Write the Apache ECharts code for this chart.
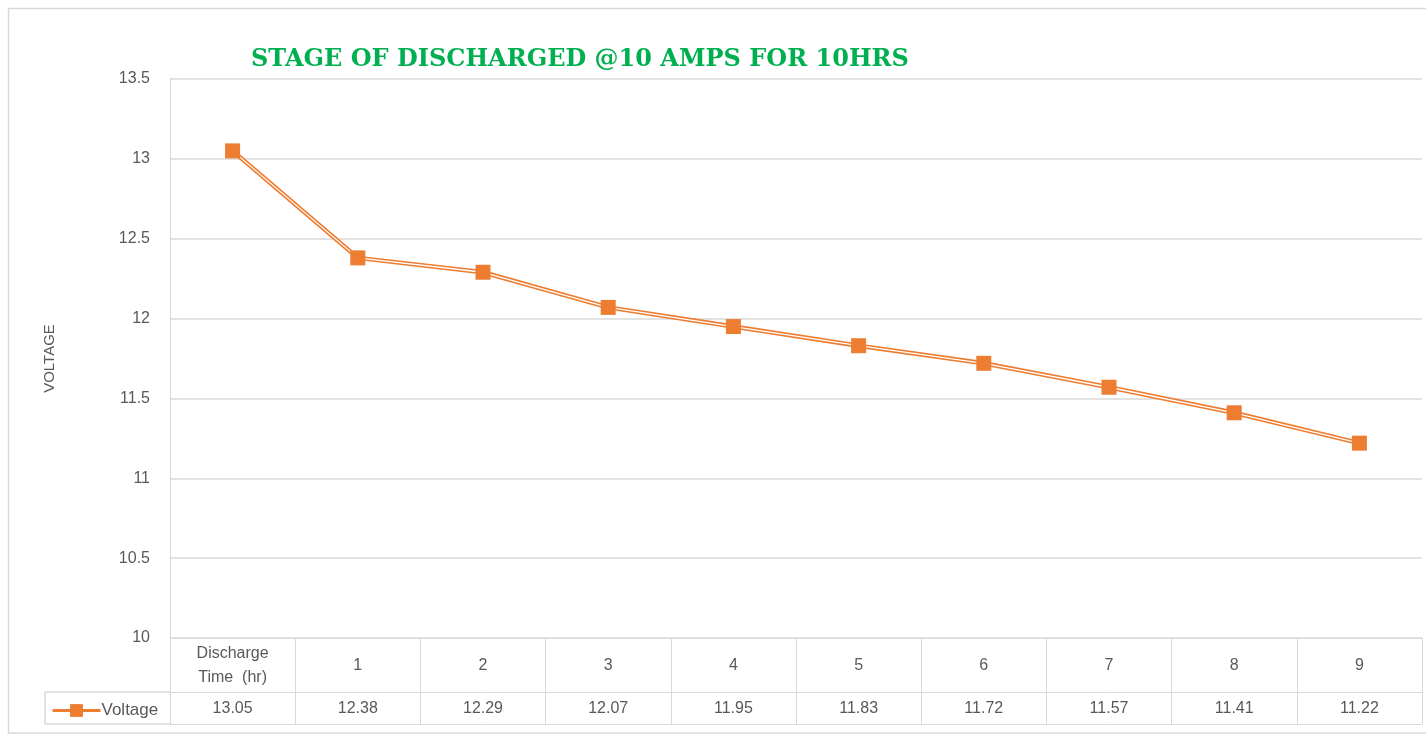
<!DOCTYPE html>
<html>
<head>
<meta charset="utf-8">
<script src="https://cdn.jsdelivr.net/npm/echarts@6/dist/echarts.min.js"></script>
<style>
html,body{margin:0;padding:0;background:#fff;}
#chart{width:1426px;height:735px;}
</style>
</head>
<body>
<div id="chart"></div>
<script>
var titleText = 'STAGE OF DISCHARGED @10 AMPS FOR 10HRS';
var categories = ['Discharge\nTime  (hr)', '1', '2', '3', '4', '5', '6', '7', '8', '9'];
var voltage = [13.05, 12.38, 12.29, 12.07, 11.95, 11.83, 11.72, 11.57, 11.41, 11.22];
var seriesName = 'Voltage';
var yAxisName = 'VOLTAGE';

var ORANGE = '#ED7D31';
var GRID = '#d9d9d9';
var TXT = '#595959';
var FONT = 'Liberation Sans';

var chart = echarts.init(document.getElementById('chart'), null, {renderer: 'canvas'});

var option = {
  backgroundColor: '#fff',
  animation: false,
  textStyle: {fontFamily: FONT},
  title: {
    text: titleText,
    left: 246,
    top: 43,
    textStyle: {fontFamily: 'DejaVu Serif', fontWeight: 'bold', fontSize: 24, color: '#00B050'}
  },
  legend: {
    left: 46,
    top: 697,
    itemWidth: 48,
    itemHeight: 16,
    itemGap: 4,
    data: [{name: seriesName, lineStyle: {color: ORANGE, width: 3, opacity: 1}}],
    textStyle: {fontFamily: FONT, fontSize: 17, color: TXT, padding: [0, 0, 0, -4]}
  },
  grid: {left: 170, right: 4, top: 79, bottom: 97, containLabel: false},
  xAxis: [
    {
      type: 'category',
      data: categories,
      position: 'bottom',
      boundaryGap: true,
      axisLine: {show: true, lineStyle: {color: GRID, width: 1}},
      axisTick: {show: true, length: 86, lineStyle: {color: GRID, width: 1}},
      axisLabel: {
        margin: 28, verticalAlign: 'middle', color: TXT, fontSize: 16, lineHeight: 24,
        fontFamily: FONT, interval: 0
      }
    },
    {
      type: 'category',
      data: categories,
      position: 'bottom',
      offset: 54,
      boundaryGap: true,
      axisLine: {show: true, lineStyle: {color: GRID, width: 1}},
      axisTick: {show: false},
      axisLabel: {
        margin: 17, verticalAlign: 'middle', color: TXT, fontSize: 16,
        fontFamily: FONT, interval: 0,
        formatter: function (v, i) { return voltage[i].toFixed(2); }
      }
    },
    {
      type: 'category',
      data: categories,
      position: 'bottom',
      offset: 86,
      axisLine: {show: true, lineStyle: {color: GRID, width: 1}},
      axisTick: {show: false},
      axisLabel: {show: false}
    }
  ],
  yAxis: {
    type: 'value',
    min: 10,
    max: 13.5,
    interval: 0.5,
    name: yAxisName,
    nameLocation: 'middle',
    nameRotate: 90,
    nameGap: 113,
    nameTextStyle: {color: TXT, fontSize: 15, fontFamily: FONT},
    axisLine: {show: true, lineStyle: {color: GRID, width: 1}},
    axisTick: {show: false},
    splitLine: {show: true, lineStyle: {color: GRID, width: 1.5}},
    axisLabel: {color: TXT, fontSize: 16, margin: 20, fontFamily: FONT, padding: [3, 0, 0, 0]}
  },
  series: [
    {
      name: '_outer',
      type: 'line',
      data: voltage,
      z: 2,
      showSymbol: false,
      symbol: 'none',
      lineStyle: {color: ORANGE, width: 4.5},
      silent: true
    },
    {
      name: '_inner',
      type: 'line',
      data: voltage,
      z: 3,
      showSymbol: false,
      symbol: 'none',
      lineStyle: {color: '#ffffff', width: 1.3},
      silent: true
    },
    {
      name: seriesName,
      type: 'line',
      data: voltage,
      z: 4,
      symbol: 'rect',
      symbolSize: 15,
      itemStyle: {color: ORANGE},
      lineStyle: {color: ORANGE, width: 0, opacity: 0}
    }
  ],
  graphic: [
    {type: 'rect', silent: true, z: -1, shape: {x: 8.5, y: 8.5, width: 1430, height: 724.5},
      style: {fill: 'none', stroke: GRID, lineWidth: 1.5}},
    {type: 'line', silent: true, shape: {x1: 45, y1: 692, x2: 170, y2: 692}, style: {stroke: GRID, lineWidth: 1.5}},
    {type: 'line', silent: true, shape: {x1: 45, y1: 724, x2: 170, y2: 724}, style: {stroke: GRID, lineWidth: 1.5}},
    {type: 'line', silent: true, shape: {x1: 45, y1: 692, x2: 45, y2: 724}, style: {stroke: GRID, lineWidth: 1.5}}
  ]
};

chart.setOption(option);
</script>
</body>
</html>
